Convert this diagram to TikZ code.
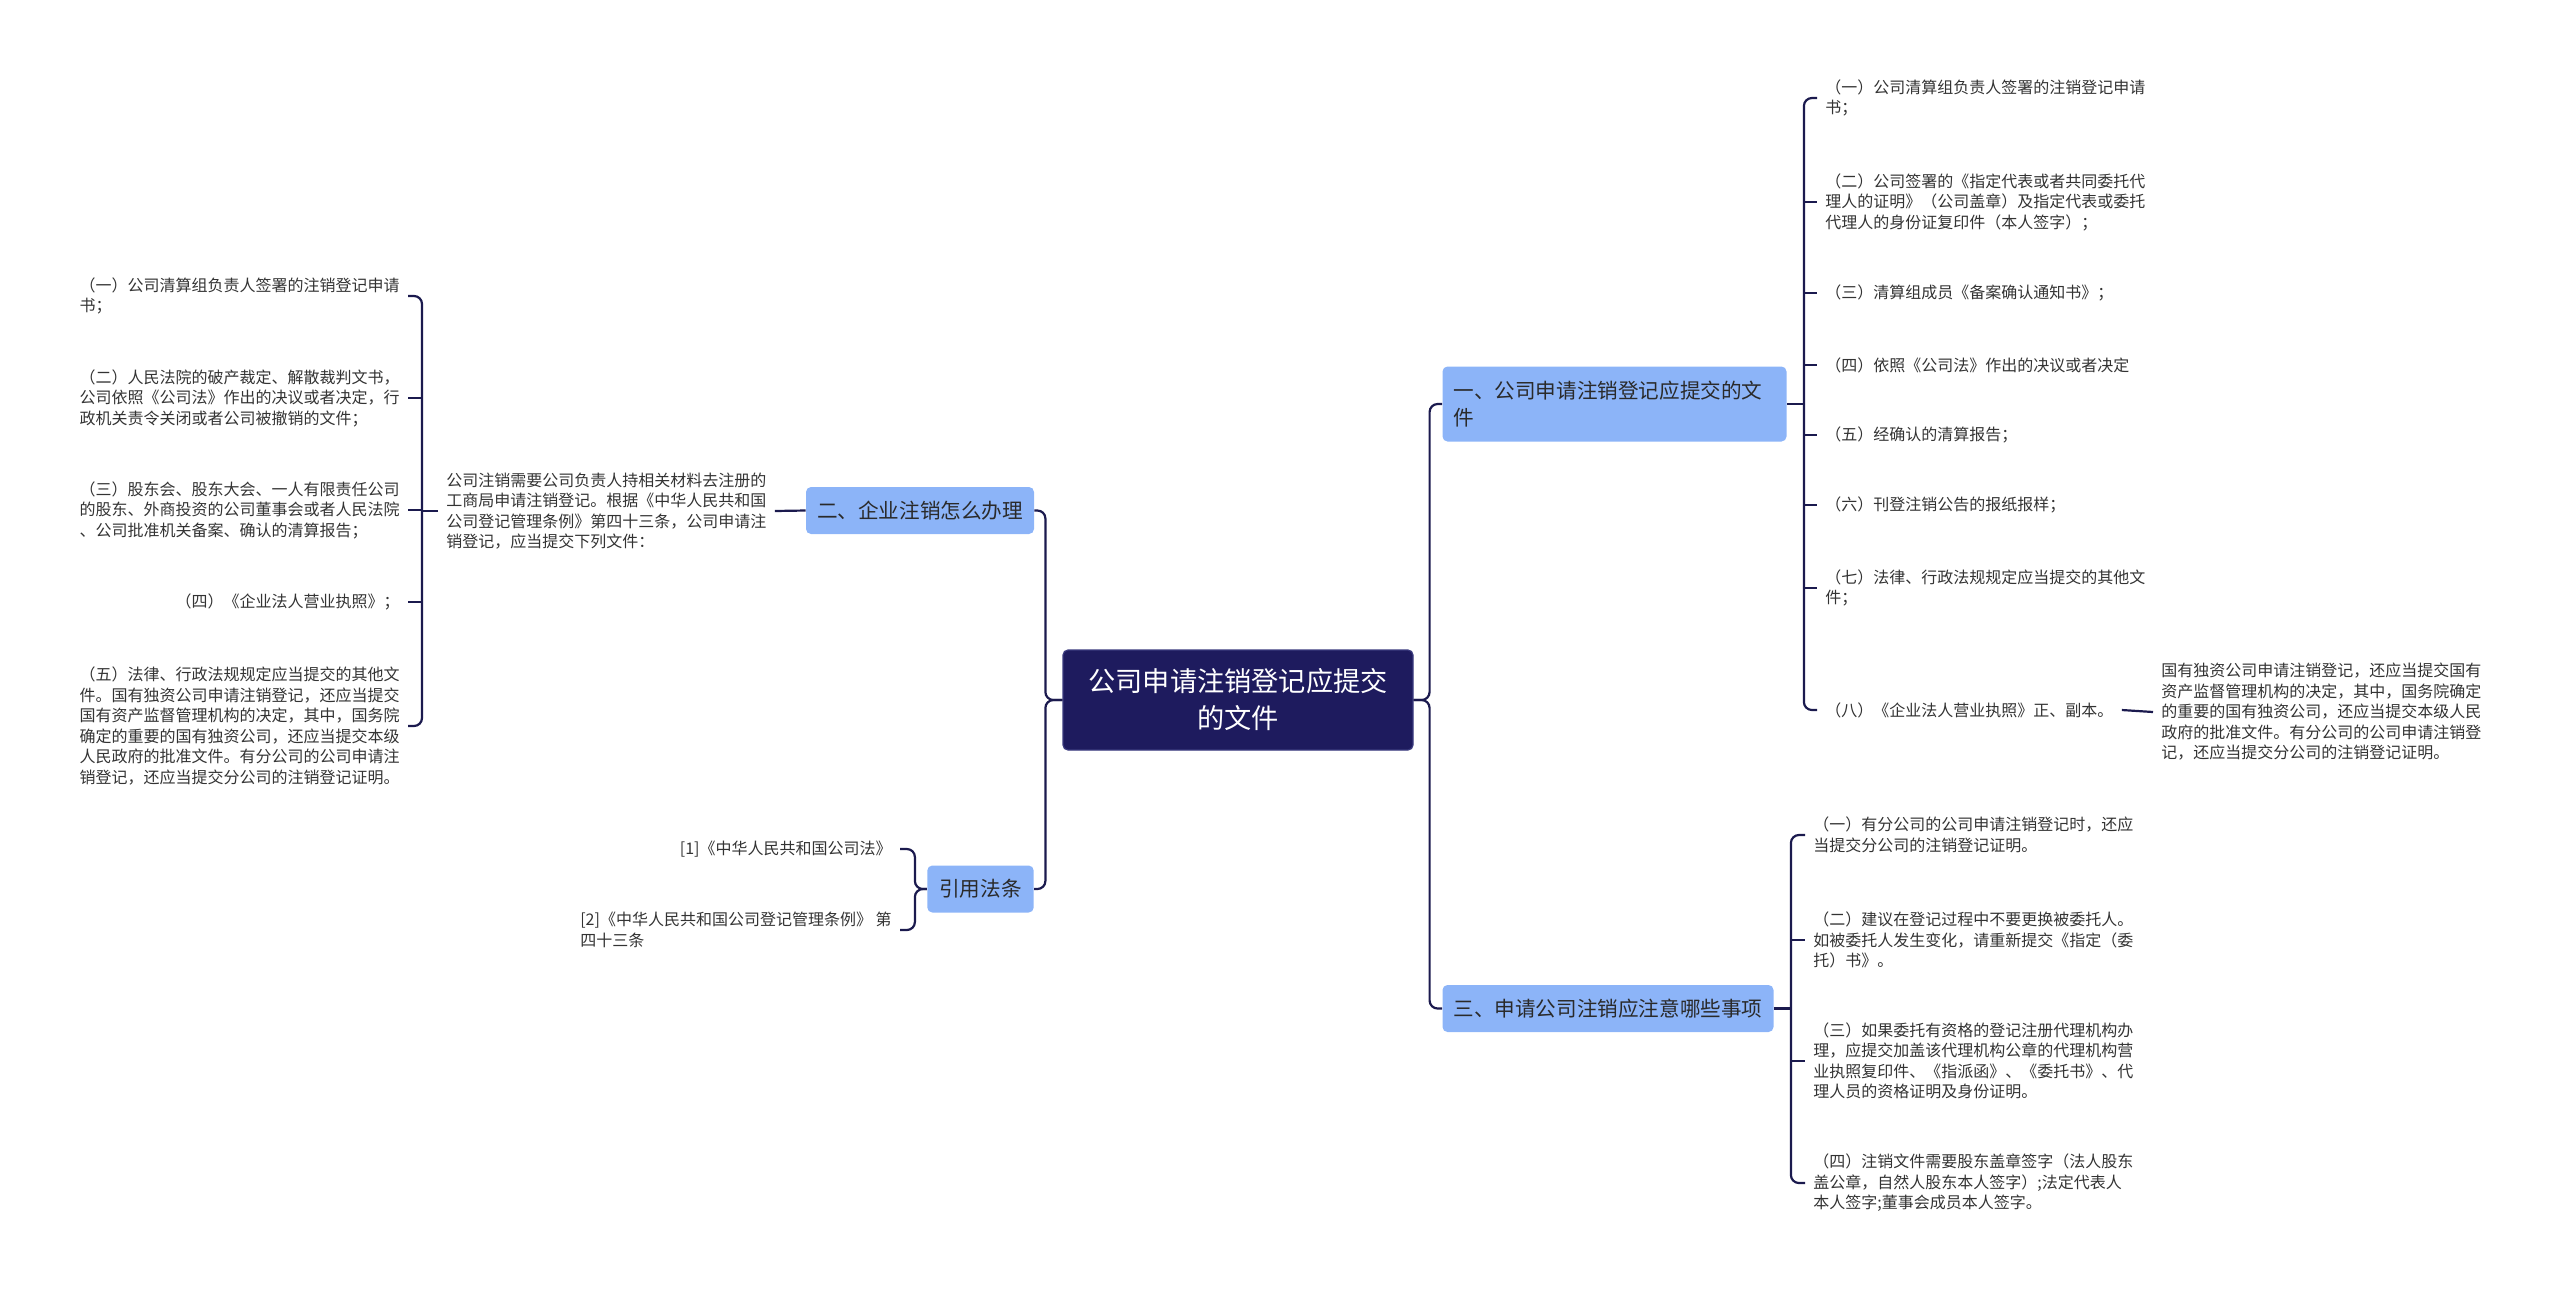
\documentclass[tikz,border=0pt]{standalone}
\usepackage{fontspec}
\setmainfont{Noto Sans CJK SC}
\usepackage{xcolor}
\usetikzlibrary{positioning, calc}

\definecolor{linecol}{HTML}{1B1A4E}
\definecolor{rootfill}{HTML}{1E1B5E}
\definecolor{rootdraw}{HTML}{3A3A7E}
\definecolor{topicfill}{HTML}{8CB4F8}
\definecolor{topictext}{HTML}{2A2A2A}
\definecolor{leaftext}{HTML}{333333}

\begin{document}
\begin{tikzpicture}[
	x=0.5pt, y=-0.5pt,
	% --- Styles ---
	rootbox/.style={
		rectangle, draw=rootdraw, fill=rootfill, rounded corners=2.5pt, line width=0.6pt,
		minimum width=175pt, minimum height=50pt, align=center, text=white,
		font={\fontsize{13.6pt}{18.5pt}\selectfont}
	},
	topicbox/.style={
		rectangle, fill=topicfill, rounded corners=2.5pt, inner xsep=5.5pt,
		minimum height=23.5pt, align=left, text=topictext,
		font={\fontsize{10.3pt}{13.3pt}\selectfont}
	},
	leaf/.style={
		inner xsep=4pt, inner ysep=0pt, align=left, text=leaftext,
		font={\fontsize{8pt}{10.25pt}\selectfont}
	},
	link/.style={
		draw=linecol, line width=1.1pt, rounded corners=4pt
	}
	]
	
	% --- Canvas ---
	\useasboundingbox (0,0) rectangle (2560,1291);
	
	% --- 1. Root ---
	\node [rootbox] (root) at (1238,700) {公司申请注销登记应提交\\的文件};
	
	% --- 2. Topics ---
	\node [topicbox, text width=161pt, minimum height=37.5pt] (docs) at (1614.5,404) {一、公司申请注销登记应提交的文\\件};
	\node [topicbox] (notes) at (1608,1008.5) {三、申请公司注销应注意哪些事项};
	\node [topicbox] (howto) at (920,510.5) {二、企业注销怎么办理};
	\node [topicbox, inner xsep=6pt] (laws) at (980.5,889) {引用法条};
	
	% Trunk lines
	\draw [link] (root.east) -- ++(16,0) |- (docs.west);
	\draw [link] (root.east) -- ++(16,0) |- (notes.west);
	\draw [link] (root.west) -- ++(-17,0) |- (howto.east);
	\draw [link] (root.west) -- ++(-17,0) |- (laws.east);
	
	% --- 3. Right: documents to submit ---
	\node [leaf, anchor=west] (docA) at (1817,98) {（一）公司清算组负责人签署的注销登记申请\\书；};
	\node [leaf, anchor=west] (docB) at (1817,202) {（二）公司签署的《指定代表或者共同委托代\\理人的证明》（公司盖章）及指定代表或委托\\代理人的身份证复印件（本人签字）；};
	\node [leaf, anchor=west] (docC) at (1817,293) {（三）清算组成员《备案确认通知书》；};
	\node [leaf, anchor=west] (docD) at (1817,365) {（四）依照《公司法》作出的决议或者决定};
	\node [leaf, anchor=west] (docE) at (1817,435) {（五）经确认的清算报告；};
	\node [leaf, anchor=west] (docF) at (1817,505) {（六）刊登注销公告的报纸报样；};
	\node [leaf, anchor=west] (docG) at (1817,588) {（七）法律、行政法规规定应当提交的其他文\\件；};
	\node [leaf, anchor=west] (docH) at (1817,710) {（八）《企业法人营业执照》正、副本。};
	\node [leaf, anchor=west] (docNote) at (2153,712) {国有独资公司申请注销登记，还应当提交国有\\资产监督管理机构的决定，其中，国务院确定\\的重要的国有独资公司，还应当提交本级人民\\政府的批准文件。有分公司的公司申请注销登\\记，还应当提交分公司的注销登记证明。};
	
	% Bracket: stub, outer arms, then the middle ticks
	\coordinate (docsJoin) at ($(docs.east)+(17,0)$);
	\draw [link] (docs.east) -- (docsJoin);
	\draw [link] (docA.west) -| (docsJoin) |- (docH.west);
	\draw [link] (docsJoin |- docB.west) -- (docB.west);
	\draw [link] (docsJoin |- docC.west) -- (docC.west);
	\draw [link] (docsJoin |- docD.west) -- (docD.west);
	\draw [link] (docsJoin |- docE.west) -- (docE.west);
	\draw [link] (docsJoin |- docF.west) -- (docF.west);
	\draw [link] (docsJoin |- docG.west) -- (docG.west);
	\draw [link] (docH.east) -- (docNote.west);
	
	% --- 4. Right: points to note ---
	\node [leaf, anchor=west] (noteA) at (1805,835) {（一）有分公司的公司申请注销登记时，还应\\当提交分公司的注销登记证明。};
	\node [leaf, anchor=west] (noteB) at (1805,940) {（二）建议在登记过程中不要更换被委托人。\\如被委托人发生变化，请重新提交《指定（委\\托）书》。};
	\node [leaf, anchor=west] (noteC) at (1805,1061) {（三）如果委托有资格的登记注册代理机构办\\理，应提交加盖该代理机构公章的代理机构营\\业执照复印件、《指派函》、《委托书》、代\\理人员的资格证明及身份证明。};
	\node [leaf, anchor=west] (noteD) at (1805,1183) {（四）注销文件需要股东盖章签字（法人股东\\盖公章，自然人股东本人签字）;法定代表人\\本人签字;董事会成员本人签字。};
	
	\coordinate (notesJoin) at ($(notes.east)+(17,0)$);
	\draw [link] (notes.east) -- (notesJoin);
	\draw [link] (noteA.west) -| (notesJoin) |- (noteD.west);
	\draw [link] (notesJoin |- noteB.west) -- (noteB.west);
	\draw [link] (notesJoin |- noteC.west) -- (noteC.west);
	
	% --- 5. Left: how to deregister ---
	\node [leaf, anchor=west] (howText) at (438,511) {公司注销需要公司负责人持相关材料去注册的\\工商局申请注销登记。根据《中华人民共和国\\公司登记管理条例》第四十三条，公司申请注\\销登记，应当提交下列文件：};
	\draw [link] (howText.east) -- (howto.west);
	
	\node [leaf, anchor=east] (howA) at (408,296) {（一）公司清算组负责人签署的注销登记申请\\书；};
	\node [leaf, anchor=east] (howB) at (408,398) {（二）人民法院的破产裁定、解散裁判文书，\\公司依照《公司法》作出的决议或者决定，行\\政机关责令关闭或者公司被撤销的文件；};
	\node [leaf, anchor=east] (howC) at (408,510) {（三）股东会、股东大会、一人有限责任公司\\的股东、外商投资的公司董事会或者人民法院\\、公司批准机关备案、确认的清算报告；};
	\node [leaf, anchor=east] (howD) at (408,602) {（四）《企业法人营业执照》；};
	\node [leaf, anchor=east] (howE) at (408,726) {（五）法律、行政法规规定应当提交的其他文\\件。国有独资公司申请注销登记，还应当提交\\国有资产监督管理机构的决定，其中，国务院\\确定的重要的国有独资公司，还应当提交本级\\人民政府的批准文件。有分公司的公司申请注\\销登记，还应当提交分公司的注销登记证明。};
	
	\coordinate (howJoin) at ($(howText.west)+(-16,0)$);
	\draw [link] (howText.west) -- (howJoin);
	\draw [link] (howA.east) -| (howJoin) |- (howE.east);
	\draw [link] (howJoin |- howB.east) -- (howB.east);
	\draw [link] (howJoin |- howC.east) -- (howC.east);
	\draw [link] (howJoin |- howD.east) -- (howD.east);
	
	% --- 6. Left: cited laws ---
	\node [leaf, anchor=east] (lawA) at (900,849) {[1]《中华人民共和国公司法》};
	\node [leaf, anchor=east] (lawB) at (900,930) {[2]《中华人民共和国公司登记管理条例》 第\\四十三条};
	
	\draw [link] (laws.west) -- ++(-12,0) |- (lawA.east);
	\draw [link] (laws.west) -- ++(-12,0) |- (lawB.east);
	
\end{tikzpicture}
\end{document}
